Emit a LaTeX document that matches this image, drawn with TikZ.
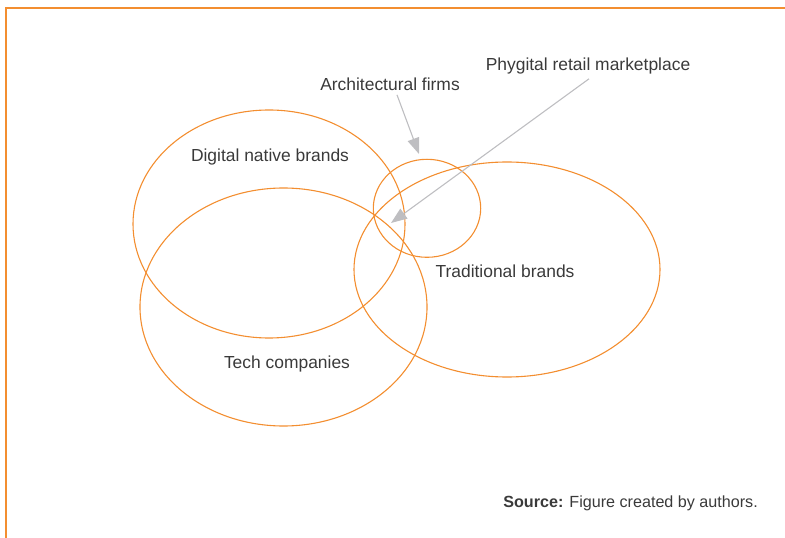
\documentclass[tikz,border=0pt]{standalone}
\usepackage{fontspec}
\setmainfont{Liberation Sans}
\usetikzlibrary{arrows.meta}

\definecolor{setorange}{RGB}{243,142,48}
\definecolor{pointergray}{RGB}{190,190,193}
\definecolor{labelgray}{RGB}{58,58,58}

\begin{document}
\begin{tikzpicture}[x=1bp,y=-1bp,
	setline/.style={draw=setorange, line width=1.1bp},
	setlabel/.style={text=labelgray, font=\fontsize{17.5}{20}\selectfont, inner sep=0pt, anchor=base},
	pointer/.style={draw=pointergray, line width=1.1bp, -{Triangle[length=16bp,width=12bp]}}]
	
	\useasboundingbox (0,0) rectangle (785,538);
	
	\draw [setorange, line width=1.8bp] (6,538) -- (6,8) -- (785,8);
	
	\draw [setline] (269,224) ellipse (136 and 114);
	\draw [setline] (283.5,307) ellipse (143.5 and 119);
	\draw [setline] (507,269.5) ellipse (153 and 107.5);
	\draw [setline] (427,208.3) ellipse (53.7 and 49);
	
	\node [setlabel] (digital) at (270,162) {Digital native brands};
	\node [setlabel] (tech) at (287,368) {Tech companies};
	\node [setlabel] (traditional) at (505,278) {Traditional brands};
	\node [setlabel] (archfirms) at (390,90.5) {Architectural firms};
	\node [setlabel] (phygital) at (588,71) {Phygital retail marketplace};
	
	\coordinate (archtip) at (419,154);
	\coordinate (phytip) at (391,223);
	\draw [pointer] ([shift={(7,4)}]archfirms.south) -- (archtip);
	\draw [pointer] ([shift={(1,4)}]phygital.south) -- (phytip);
	
	\node [setlabel, anchor=base east, font=\fontsize{16.2}{19}\selectfont] (source) at (758,507) {\textbf{Source:} Figure created by authors.};
\end{tikzpicture}
\end{document}
